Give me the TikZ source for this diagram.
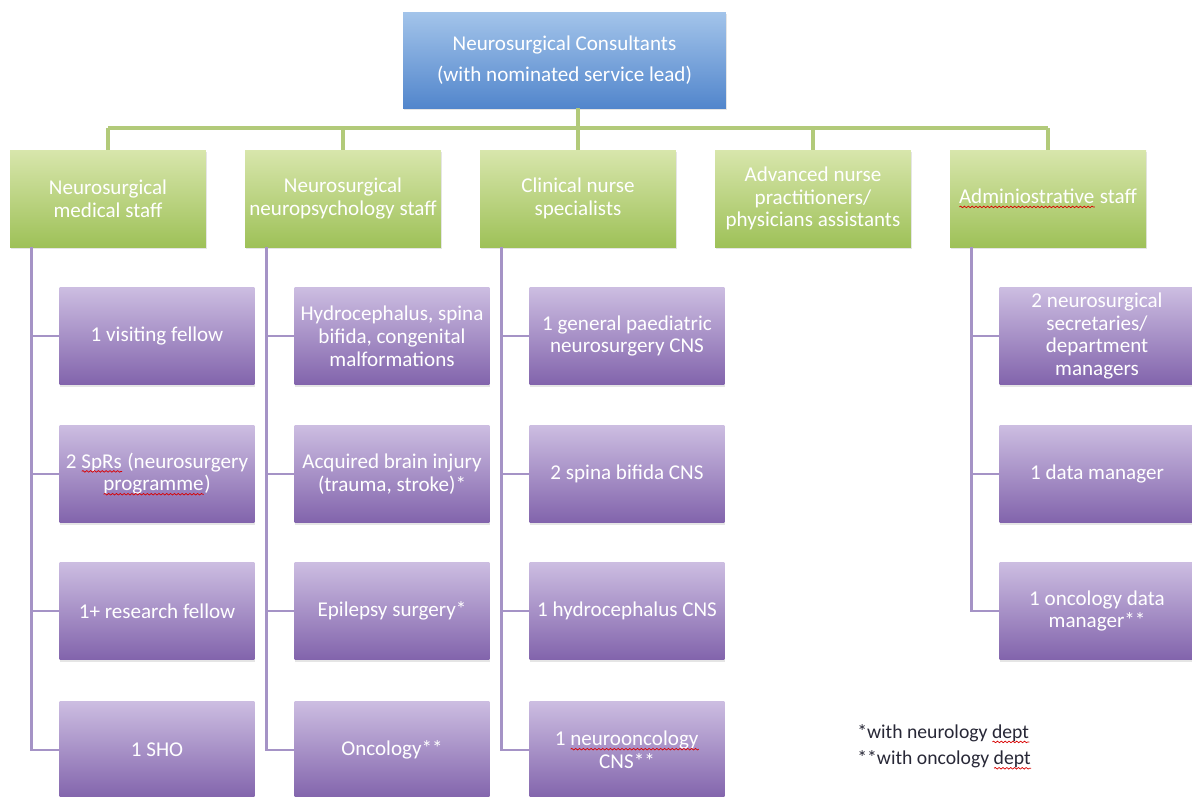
\documentclass[tikz,border=0pt]{standalone}
\usepackage{fontspec}
\setmainfont{Carlito}
\usetikzlibrary{shadows,decorations.pathmorphing}

\definecolor{blueTop}{RGB}{163,196,234}
\definecolor{blueBot}{RGB}{82,134,204}
\definecolor{greenTop}{RGB}{216,230,172}
\definecolor{greenBot}{RGB}{158,193,88}
\definecolor{purpTop}{RGB}{204,189,225}
\definecolor{purpBot}{RGB}{130,100,172}
\definecolor{greenLine}{RGB}{178,202,122}
\definecolor{purpLine}{RGB}{165,147,198}
\definecolor{noteText}{RGB}{40,40,55}

% red spell-check wave under a word
\newlength{\swlen}
\newcommand{\spellwave}[2]{%
    \settowidth{\swlen}{#2}%
    \leavevmode\rlap{\textcolor{#1}{#2}}%
    \tikz[baseline=0pt]{\draw[red!85!black, line width=0.4pt, decorate,
        decoration={snake, amplitude=0.45pt, segment length=2.2pt}]
        (0pt,-1.9pt) -- (\swlen,-1.9pt);}}

\begin{document}
\begin{tikzpicture}[x=0.02cm, y=-0.02cm,
    box/.style={rectangle, align=center, text=white, inner sep=1.5pt,
        font=\fontsize{12}{13}\selectfont,
        drop shadow={shadow xshift=0.4pt, shadow yshift=-1.2pt, opacity=0.2}},
    topbox/.style={box, top color=blueTop, bottom color=blueBot,
        minimum width=6.46cm, minimum height=1.92cm},
    staffbox/.style={box, top color=greenTop, bottom color=greenBot,
        minimum width=3.92cm, minimum height=1.94cm},
    rolebox/.style={box, top color=purpTop, bottom color=purpBot,
        minimum width=3.9cm, minimum height=1.94cm},
    greenline/.style={draw=greenLine, line width=2pt},
    purpline/.style={draw=purpLine, line width=1.6pt}
]
    \fill[white] (0,0) rectangle (1192,796);
    \useasboundingbox (0,0) rectangle (1192,796);

    % Head
    \node[topbox] (cons) at (564.5,60) {Neurosurgical Consultants\\[5pt](with nominated service lead)};

    % Staff groups
    \node[staffbox] (med) at (108,198.5) {Neurosurgical\\medical staff};
    \node[staffbox] (psy) at (343,198.5) {Neurosurgical\\neuropsychology staff};
    \node[staffbox] (cns) at (578,198.5) {Clinical nurse\\specialists};
    \node[staffbox] (anp) at (813,198.5) {Advanced nurse\\practitioners/\\physicians assistants};
    \node[staffbox] (adm) at (1048,198.5) {\spellwave{white}{Adminiostrative} staff};

    % Medical staff
    \node[rolebox] (med1) at (157,336) {1 visiting fellow};
    \node[rolebox] (med2) at (157,474) {2 \spellwave{white}{SpRs} (neurosurgery\\\spellwave{white}{programme})};
    \node[rolebox] (med3) at (157,611) {1+ research fellow};
    \node[rolebox] (med4) at (157,750) {1 SHO};

    % Neuropsychology
    \node[rolebox] (psy1) at (392,336) {Hydrocephalus, spina\\bifida, congenital\\malformations};
    \node[rolebox] (psy2) at (392,474) {Acquired brain injury\\(trauma, stroke)*};
    \node[rolebox] (psy3) at (392,611) {Epilepsy surgery*};
    \node[rolebox] (psy4) at (392,750) {Oncology**};

    % Nurse specialists
    \node[rolebox] (cns1) at (627,336) {1 general paediatric\\neurosurgery CNS};
    \node[rolebox] (cns2) at (627,474) {2 spina bifida CNS};
    \node[rolebox] (cns3) at (627,611) {1 hydrocephalus CNS};
    \node[rolebox] (cns4) at (627,750) {1 \spellwave{white}{neurooncology}\\CNS**};

    % Administration
    \node[rolebox] (adm1) at (1097,336) {2 neurosurgical\\secretaries/\\department\\managers};
    \node[rolebox] (adm2) at (1097,474) {1 data manager};
    \node[rolebox] (adm3) at (1097,611) {1 oncology data\\manager**};

    % Notes
    \node[anchor=west, align=left, text=noteText, inner sep=0pt,
        font=\fontsize{11.2}{15}\selectfont] (notes) at (857,747)
        {*with neurology \spellwave{noteText}{dept}\\**with oncology \spellwave{noteText}{dept}};

    % Green tree
    \coordinate (bar) at (0,128);
    \draw[greenline] (cons.south -| cns.north) -- (cns.north);
    \draw[greenline] (med.north |- bar) -- (adm.north |- bar);
    \foreach \g in {med,psy,anp,adm}
        \draw[greenline] (\g.north |- bar) -- (\g.north);

    % Purple branches
    \foreach \g/\n in {med/4,psy/4,cns/4,adm/3}
        \foreach \i in {1,...,\n}
            \draw[purpline] ([xshift=0.43cm]\g.south west) |- (\g\i.west);
\end{tikzpicture}
\end{document}
